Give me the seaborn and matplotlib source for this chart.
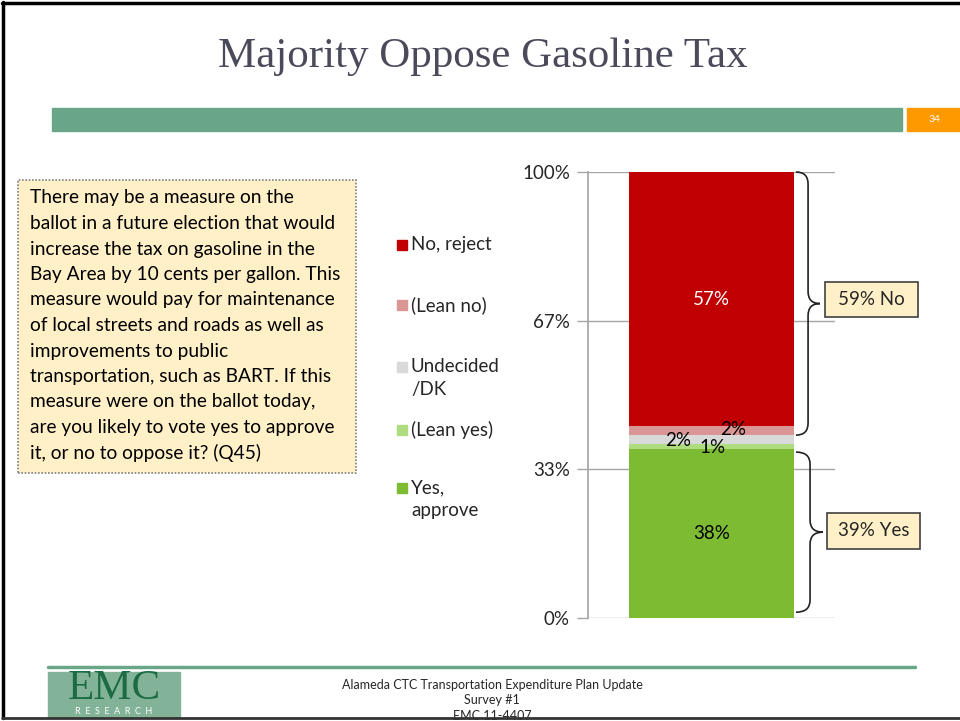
import numpy as np
import pandas as pd
import matplotlib
matplotlib.use("Agg")
import matplotlib.pyplot as plt
import seaborn as sns
from matplotlib.patches import Rectangle, PathPatch
from matplotlib.path import Path

# ---------------- data ----------------
title = "Majority Oppose Gasoline Tax"
categories = ["Yes,\napprove", "(Lean yes)", "Undecided\n/DK", "(Lean no)", "No, reject"]  # bottom -> top
values = [38, 1, 2, 2, 57]
seg_labels = ["38%", "1%", "2%", "2%", "57%"]
colors = ["#7DBB32", "#AFDC7E", "#D9D9D9", "#DA9694", "#C00000"]
tick_vals = [0, 100 / 3, 200 / 3, 100]
tick_labels = ["0%", "33%", "67%", "100%"]
summary_labels = ["59% No", "39% Yes"]
question_lines = [
    "There may be a measure on the",
    "ballot in a future election that would",
    "increase the tax on gasoline in the",
    "Bay Area by 10 cents per gallon. This",
    "measure would pay for maintenance",
    "of local streets and roads as well as",
    "improvements to public",
    "transportation, such as BART. If this",
    "measure were on the ballot today,",
    "are you likely to vote yes to approve",
    "it, or no to oppose it? (Q45)",
]
footer_lines = ["Alameda CTC Transportation Expenditure Plan Update", "Survey #1", "EMC 11-4407"]
slide_number = "34"

# ---------------- setup ----------------
sns.set_theme(style="white")
plt.rcParams["font.family"] = ["Lato", "DejaVu Sans"]

W, H = 960, 721
fig = plt.figure(figsize=(W / 100, H / 100), dpi=100)
fig.patch.set_facecolor("white")

def fx(px):
    return px / W

def fy(py):
    return 1 - py / H

GREEN = "#69A688"

# header
fig.text(fx(483), fy(57), title, family="Liberation Serif", fontsize=31,
         color="#4A4A5A", ha="center", va="center")
fig.patches.append(Rectangle((fx(52), fy(131)), fx(902) - fx(52), fy(108) - fy(131),
                             transform=fig.transFigure, color=GREEN, zorder=1))
fig.patches.append(Rectangle((fx(907), fy(131)), fx(960) - fx(907), fy(108) - fy(131),
                             transform=fig.transFigure, color="#FF9900", zorder=1))
fig.text(fx(934), fy(120), slide_number, color="white", fontsize=7.5, ha="center", va="center")

# frame
fig.add_artist(plt.Line2D([fx(3), fx(3)], [fy(2), fy(718)], transform=fig.transFigure, color="black", lw=2.5))
fig.add_artist(plt.Line2D([fx(2), fx(960)], [fy(3), fy(3)], transform=fig.transFigure, color="black", lw=2.5))
fig.add_artist(plt.Line2D([fx(2), fx(960)], [fy(718), fy(718)], transform=fig.transFigure, color="#333333", lw=2, zorder=10))

# question box
fig.patches.append(Rectangle((fx(18), fy(473)), fx(356) - fx(18), fy(180) - fy(473),
                             transform=fig.transFigure, facecolor="#FFF0C8",
                             edgecolor="#808080", linestyle=(0, (1, 1)), lw=1.2, zorder=1))
for i, line in enumerate(question_lines):
    fig.text(fx(30), fy(198 + 25.5 * i), line, fontsize=13.8, color="black", ha="left", va="center")

# ---------------- chart ----------------
ax = fig.add_axes([fx(588), fy(618), fx(835) - fx(588), fy(172) - fy(618)])
cum = np.cumsum(values)
df = pd.DataFrame({"q": ["Q45"] * len(values), "top": cum, "cat": categories})
# draw from tallest (top segment) to shortest so each lower segment overlays
for i in range(len(values) - 1, -1, -1):
    sns.barplot(data=df.iloc[[i]], x="q", y="top", color=colors[i], width=0.668,
                saturation=1, linewidth=0, ax=ax, zorder=3)

ax.set_ylim(0, 100)
ax.set_xlim(-0.5, 0.5)
ax.set_yticks(tick_vals)
ax.set_yticklabels(tick_labels, fontsize=13.5)
ax.set_xticks([])
ax.set_xlabel("")
ax.set_ylabel("")
for t in tick_vals:
    ax.axhline(t, color="#A6A6A6", lw=1, zorder=1)
for s in ["top", "right", "bottom"]:
    ax.spines[s].set_visible(False)
ax.spines["left"].set_color("#A6A6A6")
ax.tick_params(axis="y", length=8, width=1, color="#A6A6A6", pad=5, left=True)

# segment labels
bottoms = cum - np.array(values)
ax.text(0, (bottoms[4] + cum[4]) / 2, seg_labels[4], color="white", fontsize=13.5, ha="center", va="center", zorder=5)
ax.text(0, (bottoms[0] + cum[0]) / 2, seg_labels[0], color="black", fontsize=13.5, ha="center", va="center", zorder=5)
ax.text(0.087, 42.2, seg_labels[3], color="black", fontsize=13.5, ha="center", va="center", zorder=5)
ax.text(-0.136, 39.9, seg_labels[2], color="black", fontsize=13.5, ha="center", va="center", zorder=5)
ax.text(0.006, 38.3, seg_labels[1], color="black", fontsize=13.5, ha="center", va="center", zorder=5)

def brace(x0, x1, x2, ybot, ytop, r):
    ymid = (ybot + ytop) / 2
    verts = [(x0, ytop), (x1, ytop), (x1, ytop - r), (x1, ymid + r), (x1, ymid), (x2, ymid),
             (x1, ymid), (x1, ymid - r), (x1, ybot + r), (x1, ybot), (x0, ybot)]
    codes = [Path.MOVETO, Path.CURVE3, Path.CURVE3, Path.LINETO, Path.CURVE3, Path.CURVE3,
             Path.CURVE3, Path.CURVE3, Path.LINETO, Path.CURVE3, Path.CURVE3]
    ax.add_patch(PathPatch(Path(verts, codes), facecolor="none", edgecolor="#222222",
                           lw=1.2, clip_on=False, zorder=5))

brace(0.342, 0.391, 0.439, bottoms[3], cum[4], 2.7)
brace(0.342, 0.399, 0.451, bottoms[0] + 1.3, cum[0] - 0.8, 2.7)

# summary boxes
for (x0, y0, x1, y1), lab in zip([(825, 282, 918, 317), (827, 513, 920, 549)], summary_labels):
    fig.patches.append(Rectangle((fx(x0), fy(y1)), fx(x1) - fx(x0), fy(y0) - fy(y1),
                                 transform=fig.transFigure, facecolor="#FFF0C8",
                                 edgecolor="#404040", lw=1.2, zorder=4))
    fig.text(fx((x0 + x1) / 2), fy((y0 + y1) / 2), lab, fontsize=13.5, ha="center", va="center", zorder=5)

# legend (manual, top -> bottom)
legend_y = [245, 305, 367, 430, 488]
for yy, i in zip(legend_y, range(len(values) - 1, -1, -1)):
    fig.patches.append(Rectangle((fx(397), fy(yy + 5)), fx(10), fy(0) - fy(10),
                                 transform=fig.transFigure, color=colors[i], zorder=3))
    fig.text(fx(411), fy(yy - 9), categories[i], fontsize=13.5, ha="left", va="top",
             linespacing=1.4)

# footer
fig.add_artist(plt.Line2D([fx(48), fx(915)], [fy(667), fy(667)], transform=fig.transFigure, color=GREEN, lw=2.5))
fig.patches.append(Rectangle((fx(48), fy(717)), fx(180) - fx(48), fy(672) - fy(717),
                             transform=fig.transFigure, color="#82B298", zorder=2))
fig.text(fx(114), fy(689), "EMC", family="Liberation Serif", fontsize=31, color="#1C6B45",
         ha="center", va="center", zorder=3)
fig.text(fx(114), fy(712), "R  E  S  E  A  R  C  H", fontsize=6.5, color="white", ha="center", va="center", zorder=3)
for i, line in enumerate(footer_lines):
    fig.text(fx(492), fy(685 + 15.5 * i), line, fontsize=9, ha="center", va="center")

fig.savefig("out.png", dpi=100)
